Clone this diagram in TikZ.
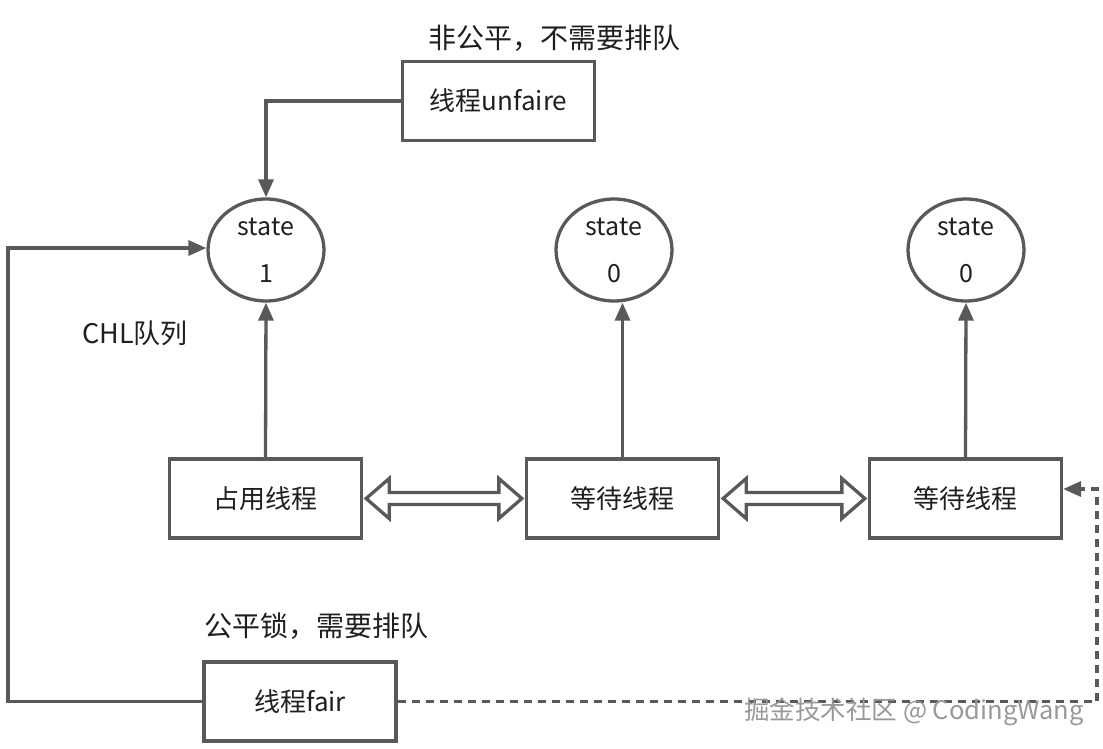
\documentclass[tikz,border=0pt]{standalone}
\usepackage{fontspec}
\setmainfont{Noto Sans CJK SC}
\usetikzlibrary{arrows.meta,calc,shapes.geometric}
\definecolor{ln}{HTML}{595959}
\definecolor{tx}{HTML}{1f1f1f}
\begin{document}
\begin{tikzpicture}[x=1pt,y=-1pt,
  every node/.style={text=tx},
  box/.style={draw=ln,line width=3.3pt,minimum width=192pt,minimum height=79pt,inner sep=0pt,font=\fontsize{26}{30}\selectfont},
  st/.style={draw=ln,line width=3.3pt,ellipse,minimum width=116pt,minimum height=102pt,inner sep=0pt,align=center,font=\fontsize{25}{47}\selectfont},
  lbl/.style={font=\fontsize{28}{32}\selectfont,inner sep=0pt},
  conn/.style={draw=ln,line width=3.3pt,-{Triangle[length=18pt,width=15pt]}},
  dconn/.style={draw=ln,line width=3.3pt,dash pattern=on 8pt off 6pt,-{Triangle[length=18pt,width=15pt]}},
  dbl/.style={draw=ln,line width=3.3pt,line join=miter,fill=white}
]
\useasboundingbox (0,0) rectangle (1103,748);
\fill[white] (0,0) rectangle (1103,748);

\node[box] (unf) at (498.5,101) {线程unfaire};
\node[lbl] (lunf) at (554,38) {非公平，不需要排队};

\node[st] (s1) at (266,250) {state\\1};
\node[st] (s2) at (614,250) {state\\0};
\node[st] (s3) at (966,250) {state\\0};

\node[box] (b1) at (265.5,498.5) {占用线程};
\node[box] (b2) at (622.5,498.5) {等待线程};
\node[box] (b3) at (965.5,498.5) {等待线程};

\node[lbl,font=\fontsize{27}{30}\selectfont] (chl) at (135,333) {CHL队列};

\node[box] (fair) at (300,701.5) {线程fair};
\node[lbl] (lfair) at (316,626) {公平锁，需要排队};

\coordinate (c1) at (266,101);
\coordinate (c2) at (8,701.5);
\coordinate (c3) at (8,248);
\coordinate (c4) at (1097,701.5);
\coordinate (c5) at (1097,489);

\draw[conn] (unf.west) -- (c1) -- (s1.north);
\draw[conn] (b1.north) -- (s1.south);
\draw[conn] (b2.north) -- (b2.north |- s2.south);
\draw[conn] (b3.north) -- (s3.south);
\draw[conn] (fair.west) -- (c2) -- (c3) -- (c3 -| s1.west);
\draw[dconn] (fair.east) -- (c4) -- (c5) -- (c5 -| b3.east);

% hollow double arrows
\foreach \a/\b in {b1/b2,b2/b3}{
  \draw[dbl] let \p1=(\a.east), \p2=(\b.west) in
    (\x1+3pt,\y1) -- (\x1+26pt,\y1+20pt) -- (\x1+26pt,\y1+6pt) -- (\x2-26pt,\y2+6pt)
    -- (\x2-26pt,\y2+20pt) -- (\x2-3pt,\y2) -- (\x2-26pt,\y2-20pt) -- (\x2-26pt,\y2-6pt)
    -- (\x1+26pt,\y1-6pt) -- (\x1+26pt,\y1-20pt) -- cycle;
}

\node[font=\fontsize{25.5}{28}\selectfont,text=black!40,inner sep=0pt] (wm) at (914,712)
  {掘金技术社区 @ CodingWang};
\end{tikzpicture}
\end{document}
